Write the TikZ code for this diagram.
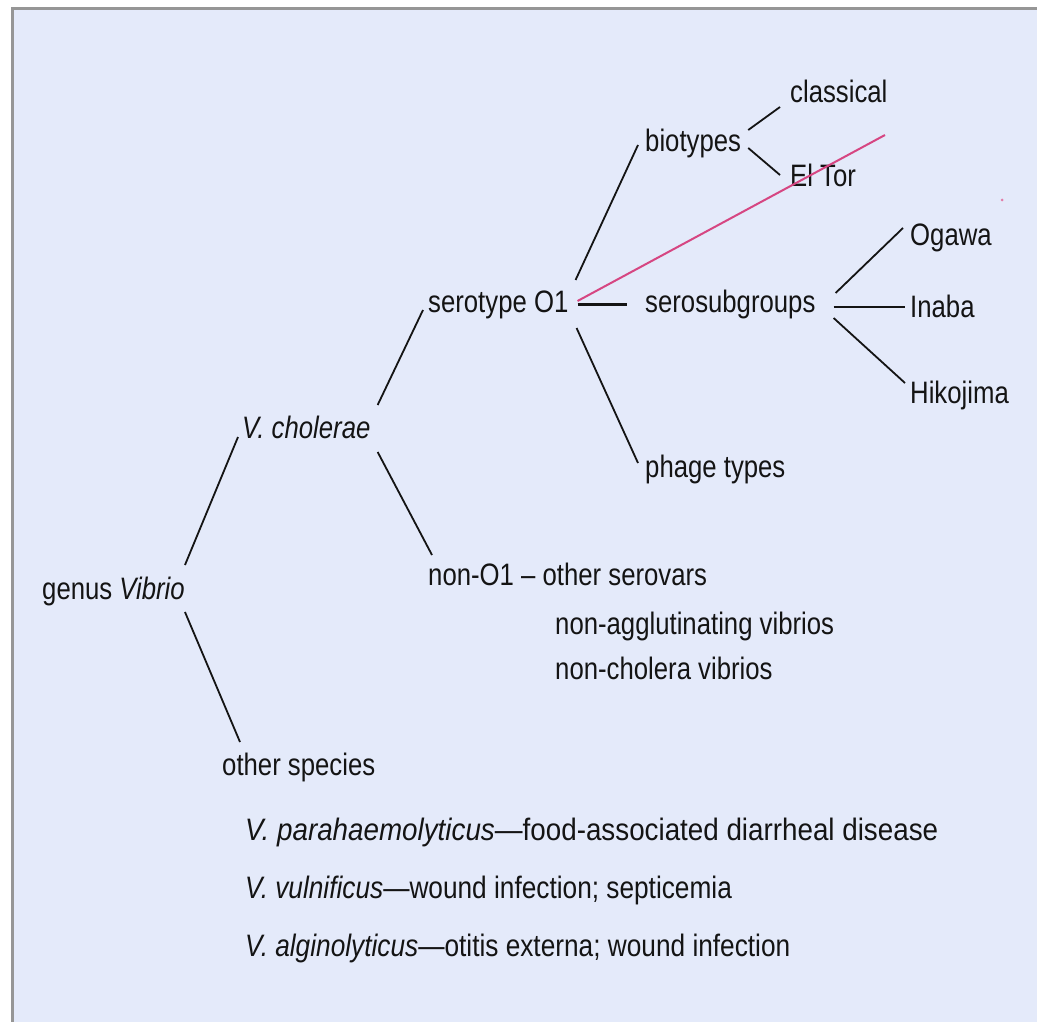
\documentclass[tikz,border=0pt]{standalone}
\usepackage{fontspec}
\setmainfont[FakeStretch=0.83]{Liberation Sans}
\definecolor{bgblue}{RGB}{228,234,250}
\definecolor{pinkline}{RGB}{214,70,130}
\definecolor{framegray}{RGB}{150,150,150}
\definecolor{ink}{RGB}{20,20,20}
\begin{document}
\begin{tikzpicture}[x=1pt,y=-1pt,
  lab/.style={anchor=base west, inner sep=0pt, font=\fontsize{31}{36}\selectfont, text=ink},
  conn/.style={draw=ink, line width=1.8pt},
  thickconn/.style={draw=ink, line width=3pt},
  pinkconn/.style={draw=pinkline, line width=2pt}]
\useasboundingbox (0,0) rectangle (1037,1022);
\fill[white] (0,0) rectangle (1037,1022);
\fill[bgblue] (12,9) rectangle (1037,1022);
\draw[framegray, line width=3pt] (12,1022) -- (12,9) -- (1037,9);

% nodes
\node[lab] (genus) at (42,599) {genus \textit{Vibrio}};
\node[lab] (vc) at (242,438) {\textit{V. cholerae}};
\node[lab] (sero) at (428,312) {serotype O1};
\node[lab] (non) at (428,585) {non-O1 – other serovars};
\node[lab] (nonagg) at (555,634) {non-agglutinating vibrios};
\node[lab] (noncho) at (555,679) {non-cholera vibrios};
\node[lab] (other) at (222,775) {other species};
\node[lab] (para) at (245,840) {\scalebox{1.08}[1]{\textit{V. parahaemolyticus}—food-associated diarrheal disease}};
\node[lab] (vuln) at (245,898) {\scalebox{1.02}[1]{\textit{V. vulnificus}—wound infection; septicemia}};
\node[lab] (algi) at (245,956) {\scalebox{1.02}[1]{\textit{V. alginolyticus}—otitis externa; wound infection}};
\node[lab] (bio) at (645,152) {biotypes};
\node[lab] (class) at (790,103) {classical};
\node[lab] (eltor) at (790,187) {El Tor};
\node[lab] (ssg) at (645,312) {serosubgroups};
\node[lab] (phage) at (645,477) {phage types};
\node[lab] (ogawa) at (910,245) {Ogawa};
\node[lab] (inaba) at (910,317) {Inaba};
\node[lab] (hiko) at (910,403) {Hikojima};
\coordinate (pinkend) at (885,135);

% connectors
\draw[conn] ([shift={(0,-34)}]genus.base east) -- ([shift={(-4,-1)}]vc.base west);
\draw[conn] ([shift={(0,13)}]genus.base east) -- ([shift={(18,-33)}]other.base west);
\draw[conn] ([shift={(7,-33)}]vc.base east) -- ([shift={(-5,-2)}]sero.base west);
\draw[conn] ([shift={(7,14)}]vc.base east) -- ([shift={(4,-30)}]non.base west);
\draw[conn] ([shift={(7,-32)}]sero.base east) -- ([shift={(-7,-7)}]bio.base west);
\draw[thickconn] ([shift={(9,-8)}]sero.base east) -- ([shift={(-18,-8)}]ssg.base west);
\draw[conn] ([shift={(8,16)}]sero.base east) -- ([shift={(-7,-14)}]phage.base west);
\draw[conn] ([shift={(7,-22)}]bio.base east) -- ([shift={(-10,4)}]class.base west);
\draw[conn] ([shift={(7,-4)}]bio.base east) -- ([shift={(-10,-12)}]eltor.base west);
\draw[conn] ([shift={(20,-19)}]ssg.base east) -- ([shift={(-7,-17)}]ogawa.base west);
\draw[conn] ([shift={(18,-5)}]ssg.base east) -- ([shift={(-5,-10)}]inaba.base west);
\draw[conn] ([shift={(18,6)}]ssg.base east) -- ([shift={(-5,-20)}]hiko.base west);
\draw[pinkconn] ([shift={(9,-11)}]sero.base east) -- (pinkend);
\fill[pinkline!70] (1002,200) circle (1.5);
\end{tikzpicture}
\end{document}
